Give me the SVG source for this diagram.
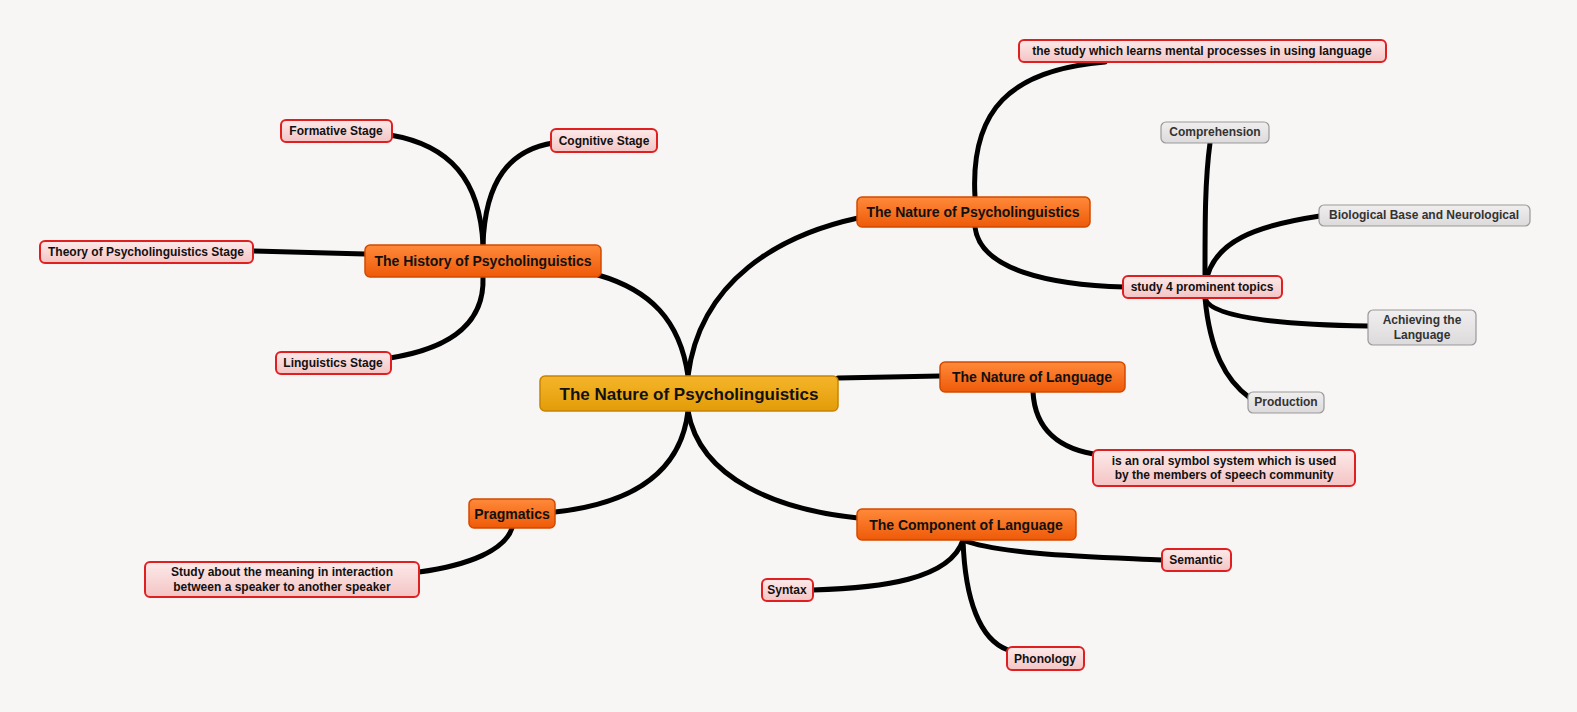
<svg xmlns="http://www.w3.org/2000/svg" width="1577" height="712" viewBox="0 0 1577 712">
<defs>
<linearGradient id="og" x1="0" y1="0" x2="0" y2="1"><stop offset="0" stop-color="#ff8a3a"/><stop offset="1" stop-color="#ee5a08"/></linearGradient>
<linearGradient id="yg" x1="0" y1="0" x2="0" y2="1"><stop offset="0" stop-color="#f5b52a"/><stop offset="1" stop-color="#e39c08"/></linearGradient>
<linearGradient id="pg" x1="0" y1="0" x2="0" y2="1"><stop offset="0" stop-color="#fdeaea"/><stop offset="1" stop-color="#f4c4c4"/></linearGradient>
<linearGradient id="gg" x1="0" y1="0" x2="0" y2="1"><stop offset="0" stop-color="#f0eeee"/><stop offset="1" stop-color="#dcdada"/></linearGradient>
</defs>
<style>
text{font-family:"Liberation Sans",Arial,sans-serif;font-weight:bold;fill:#111;text-anchor:middle;dominant-baseline:central}
.o rect{fill:url(#og);stroke:#d24a00;stroke-width:1.5}
.o text{font-size:14px}
.p rect{fill:url(#pg);stroke:#e02020;stroke-width:2}
.p text{font-size:12px}
.g rect{fill:url(#gg);stroke:#999;stroke-width:1.2}
.g text{font-size:12px;fill:#333}
#conn path{fill:none;stroke:#000;stroke-width:5;stroke-linecap:round}
</style>
<rect width="1577" height="712" fill="#f7f6f5"/>
<g id="conn">
<path d="M688,376 C680,320 650,290 598,275"/>
<path d="M688,376 C700,280 780,235 858,218"/>
<path d="M838,378 L940,376"/>
<path d="M688,411 C700,480 780,510 858,518"/>
<path d="M688,411 C680,480 620,505 555,512"/>
<path d="M483,245 C480,180 450,145 390,135"/>
<path d="M483,245 C485,180 510,150 553,143"/>
<path d="M365,254 L253,251"/>
<path d="M483,277 C485,330 440,350 390,358"/>
<path d="M975,197 C970,110 1010,70 1105,62"/>
<path d="M975,227 C980,270 1050,285 1125,287"/>
<path d="M1205,276 C1205,220 1205,180 1210,143"/>
<path d="M1205,287 C1210,240 1260,225 1320,216"/>
<path d="M1205,298 C1210,320 1300,325 1368,326"/>
<path d="M1205,298 C1210,350 1225,380 1250,398"/>
<path d="M1033,392 C1035,430 1060,450 1100,455"/>
<path d="M512,528 C505,550 470,565 419,572"/>
<path d="M963,540 C950,580 880,588 813,590"/>
<path d="M963,540 C1000,555 1100,557 1162,560"/>
<path d="M963,540 C965,600 980,640 1008,650"/>
</g>
<g id="center"><rect x="540" y="376" width="298" height="35" rx="5" fill="url(#yg)" stroke="#c88400" stroke-width="1.5"/><text x="689" y="394" style="font-size:17px">The Nature of Psycholinguistics</text></g>
<g id="history" class="o"><rect x="365" y="245" width="236" height="32" rx="5"/><text x="483" y="261">The History of Psycholinguistics</text></g>
<g id="natpsy" class="o"><rect x="857" y="197" width="233" height="30" rx="5"/><text x="973" y="212">The Nature of Psycholinguistics</text></g>
<g id="natlang" class="o"><rect x="940" y="362" width="185" height="30" rx="5"/><text x="1032" y="377">The Nature of Language</text></g>
<g id="component" class="o"><rect x="857" y="509" width="219" height="31" rx="5"/><text x="966" y="525">The Component of Language</text></g>
<g id="pragmatics" class="o"><rect x="469" y="499" width="86" height="29" rx="5"/><text x="512" y="514">Pragmatics</text></g>
<g id="formative" class="p"><rect x="281" y="120" width="111" height="22" rx="5"/><text x="336" y="131">Formative Stage</text></g>
<g id="cognitive" class="p"><rect x="551" y="129" width="106" height="23" rx="5"/><text x="604" y="141">Cognitive Stage</text></g>
<g id="theory" class="p"><rect x="40" y="241" width="213" height="22" rx="5"/><text x="146" y="252">Theory of Psycholinguistics Stage</text></g>
<g id="linguistics" class="p"><rect x="276" y="352" width="115" height="22" rx="5"/><text x="333" y="363">Linguistics Stage</text></g>
<g id="learns" class="p"><rect x="1019" y="40" width="367" height="22" rx="5"/><text x="1202" y="51">the study which learns mental processes in using language</text></g>
<g id="topics" class="p"><rect x="1123" y="276" width="159" height="22" rx="5"/><text x="1202" y="287">study 4 prominent topics</text></g>
<g id="oral" class="p"><rect x="1093" y="450" width="262" height="36" rx="5"/><text x="1224" y="461">is an oral symbol system which is used</text><text x="1224" y="475">by the members of speech community</text></g>
<g id="studyabout" class="p"><rect x="145" y="562" width="274" height="35" rx="5"/><text x="282" y="572">Study about the meaning in interaction</text><text x="282" y="587">between a speaker to another speaker</text></g>
<g id="syntax" class="p"><rect x="762" y="579" width="51" height="22" rx="5"/><text x="787" y="590">Syntax</text></g>
<g id="semantic" class="p"><rect x="1162" y="549" width="69" height="22" rx="5"/><text x="1196" y="560">Semantic</text></g>
<g id="phonology" class="p"><rect x="1007" y="647" width="77" height="23" rx="5"/><text x="1045" y="659">Phonology</text></g>
<g id="comprehension" class="g"><rect x="1161" y="122" width="108" height="21" rx="5"/><text x="1215" y="132">Comprehension</text></g>
<g id="biological" class="g"><rect x="1319" y="205" width="211" height="21" rx="5"/><text x="1424" y="215">Biological Base and Neurological</text></g>
<g id="achieving" class="g"><rect x="1368" y="310" width="108" height="35" rx="5"/><text x="1422" y="320">Achieving the</text><text x="1422" y="335">Language</text></g>
<g id="production" class="g"><rect x="1248" y="392" width="76" height="21" rx="5"/><text x="1286" y="402">Production</text></g>
</svg>
